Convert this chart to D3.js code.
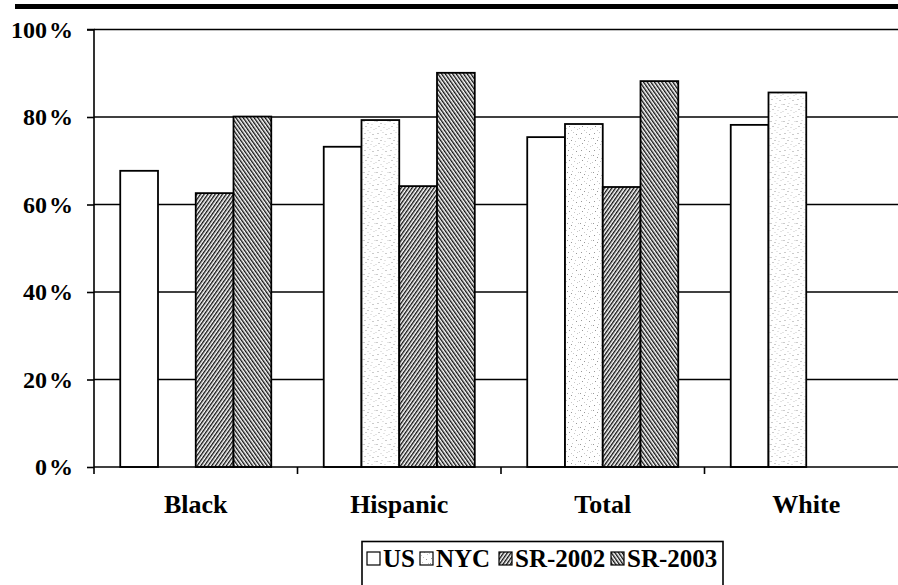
<!DOCTYPE html>
<html>
<head>
<meta charset="utf-8">
<script src="https://cdn.jsdelivr.net/npm/d3@7"></script>
<style>
html,body{margin:0;padding:0;background:#fff;overflow:hidden;}
svg{display:block;}
</style>
</head>
<body>
<svg id="chart" width="898" height="585"></svg>
<script>
const categories = ["Black", "Hispanic", "Total", "White"];
const seriesNames = ["US", "NYC", "SR-2002", "SR-2003"];
const usValues = [67.7, 73.2, 75.4, 78.2];
const nycValues = [null, 79.3, 78.4, 85.6];
const sr2002Values = [62.6, 64.2, 64.0, null];
const sr2003Values = [80.1, 90.1, 88.2, null];
const yTicks = [0, 20, 40, 60, 80, 100];

const seriesValues = [usValues, nycValues, sr2002Values, sr2003Values];
const fills = ["#fff", "url(#pNYC)", "url(#pSR02)", "url(#pSR03)"];
const FONT = "'Liberation Serif', 'Times New Roman', Tinos, 'DejaVu Serif', serif";

const svg = d3.select("#chart");
const W = 898, H = 585;
const plotLeft = 94, plotBottom = 467, plotTop = 29.5, band = 203.5;

const defs = svg.append("defs");
const pN = defs.append("pattern").attr("id","pNYC").attr("patternUnits","userSpaceOnUse")
  .attr("width",13).attr("height",17);
pN.append("rect").attr("width",13).attr("height",17).attr("fill","#fff");
[[1,2],[6,1],[9,5],[3,7],[11,10],[7,13],[2,14],[0,9],[8,8],[5,4],[12,2],[5,11],[10,15]].forEach(([px,py],i)=>{
  pN.append("rect").attr("x",px).attr("y",py).attr("width",1).attr("height",1)
    .attr("fill", i%3===0 ? "#999" : "#c8c8c8");
});
function hatch(id, angle){
  const p = defs.append("pattern").attr("id",id).attr("patternUnits","userSpaceOnUse")
    .attr("width",3).attr("height",3).attr("patternTransform","rotate("+angle+")");
  p.append("rect").attr("width",3).attr("height",3).attr("fill","#fff");
  p.append("rect").attr("x",0).attr("y",0).attr("width",1.4).attr("height",3).attr("fill","#111");
}
hatch("pSR02", 35);
hatch("pSR03", -35);

svg.append("rect").attr("x",15).attr("y",4).attr("width",W-15).attr("height",5).attr("fill","#000");

const x = d3.scaleBand().domain(categories).range([plotLeft, plotLeft + band*categories.length]).padding(0);
const xs = d3.scaleBand().domain(seriesNames).range([0, band]).paddingInner(0).paddingOuter(0.695);
const y = d3.scaleLinear().domain([0,100]).range([plotBottom, plotTop]);

svg.append("g").selectAll("line").data(yTicks.filter(d=>d>0)).join("line")
  .attr("x1", plotLeft).attr("x2", W).attr("y1", d=>y(d)).attr("y2", d=>y(d))
  .attr("stroke","#000").attr("stroke-width",1.6);

const yAxis = d3.axisLeft(y).tickValues(yTicks).tickSize(7).tickFormat(()=>"");
const gy = svg.append("g").attr("transform",`translate(${plotLeft},0)`).call(yAxis);
gy.select(".domain").attr("stroke","#000").attr("stroke-width",1.6).attr("d",`M-7,${plotTop}H0V${plotBottom}`);
gy.selectAll(".tick line").attr("stroke","#000").attr("stroke-width",1.6);

const yl = svg.append("g").selectAll("text").data(yTicks).join("text")
  .attr("x", 73).attr("y", d=>y(d)+8).attr("text-anchor","end")
  .attr("font-family", FONT).attr("font-weight","bold").attr("font-size", 24);
yl.append("tspan").text(d=>d);
yl.append("tspan").attr("dx",2).text("%");

const groups = svg.append("g").selectAll("g").data(categories).join("g")
  .attr("transform", d=>`translate(${x(d)},0)`);
groups.selectAll("rect").data((c,ci)=>seriesNames.map((s,si)=>({s, si, v: seriesValues[si][ci]})).filter(d=>d.v!=null))
  .join("rect")
  .attr("x", d=>xs(d.s)).attr("width", xs.bandwidth())
  .attr("y", d=>y(d.v)).attr("height", d=>plotBottom - y(d.v))
  .attr("fill", d=>fills[d.si]).attr("stroke","#000").attr("stroke-width",1.8);

const xAxis = d3.axisBottom(x).tickSize(0).tickFormat(()=>"");
const gx = svg.append("g").attr("transform",`translate(0,${plotBottom})`).call(xAxis);
gx.select(".domain").attr("stroke","#000").attr("stroke-width",1.6).attr("d",`M${plotLeft},0H${W}`);
svg.append("g").selectAll("line").data(d3.range(categories.length)).join("line")
  .attr("x1", i=>plotLeft + i*band).attr("x2", i=>plotLeft + i*band)
  .attr("y1", plotBottom).attr("y2", plotBottom+7).attr("stroke","#000").attr("stroke-width",1.6);

svg.append("g").selectAll("text").data(categories).join("text")
  .attr("x", d=>x(d)+band/2).attr("y", 513).attr("text-anchor","middle")
  .attr("font-family", FONT).attr("font-weight","bold").attr("font-size", 26).text(d=>d);

const lg = svg.append("g");
lg.append("rect").attr("x",362).attr("y",541.5).attr("width",361).attr("height",45)
  .attr("fill","#fff").attr("stroke","#000").attr("stroke-width",1.6);
const legendX = [367, 420, 499, 611];
seriesNames.forEach((s,i)=>{
  lg.append("rect").attr("x",legendX[i]).attr("y",552).attr("width",13).attr("height",13)
    .attr("fill",fills[i]).attr("stroke","#000").attr("stroke-width",1.2);
  lg.append("text").attr("x",legendX[i]+16).attr("y",567)
    .attr("font-family", FONT).attr("font-weight","bold").attr("font-size", 25).text(s);
});
</script>
</body>
</html>
